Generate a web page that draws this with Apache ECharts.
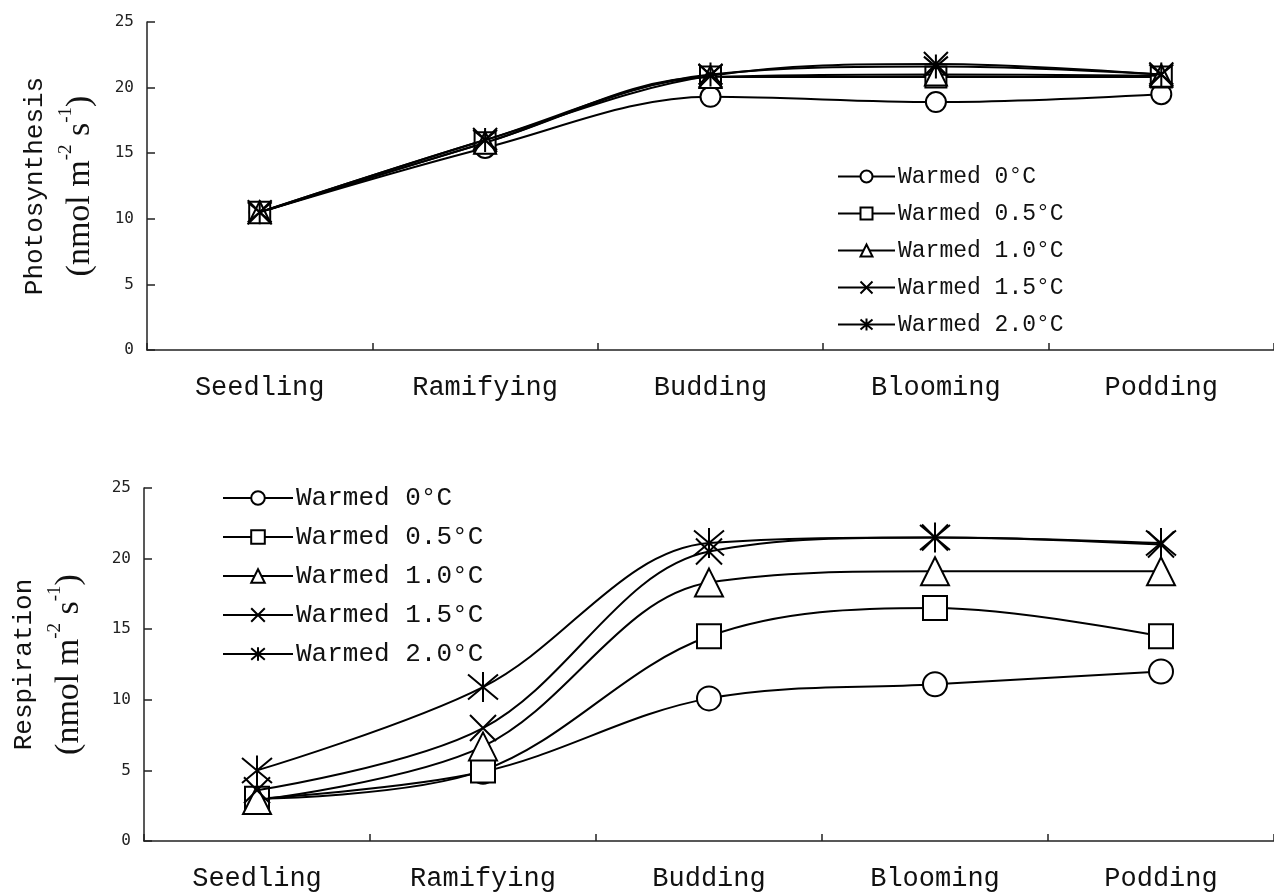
<!DOCTYPE html>
<html>
<head>
<meta charset="utf-8">
<script src="https://cdn.jsdelivr.net/npm/echarts@6/dist/echarts.min.js"></script>
<style>
html,body{margin:0;padding:0;background:#fff;}
#chart{width:1274px;height:892px;}
</style>
</head>
<body>
<div id="chart"></div>
<script>
// ---------- data ----------
const stages = ['Seedling', 'Ramifying', 'Budding', 'Blooming', 'Podding'];
const seriesNames = ['Warmed 0°C', 'Warmed 0.5°C', 'Warmed 1.0°C', 'Warmed 1.5°C', 'Warmed 2.0°C'];
const yTicks = [0, 5, 10, 15, 20, 25];

// Photosynthesis (nmol m-2 s-1)
const photo0  = [10.5, 15.4, 19.3, 18.9, 19.5];
const photo05 = [10.5, 15.8, 20.8, 20.8, 20.8];
const photo10 = [10.5, 15.8, 20.8, 21.0, 20.9];
const photo15 = [10.5, 16.0, 20.9, 21.8, 21.0];
const photo20 = [10.5, 16.0, 21.0, 21.6, 21.0];

// Respiration (nmol m-2 s-1)
const resp0  = [3.0, 4.9, 10.1, 11.1, 12.0];
const resp05 = [3.0, 5.0, 14.5, 16.5, 14.5];
const resp10 = [2.9, 6.7, 18.3, 19.1, 19.1];
const resp15 = [3.6, 8.0, 20.5, 21.5, 21.0];
const resp20 = [5.0, 10.9, 21.1, 21.5, 21.1];

// ---------- styling ----------
const X_PATH = 'path://M0,0L20,20M20,0L0,20';
const AST_PATH = 'path://M0,2L20,22M20,2L0,22M10,0L10,24';
const symbols = ['emptyCircle', 'emptyRect', 'emptyTriangle', X_PATH, AST_PATH];
const topSizes = [20, 21, 22, 24, 24];
const botSizes = [24, 24, 28, 26, 30];

const monoFont = '"Liberation Mono", "DejaVu Sans Mono", monospace';
const serifFont = '"Liberation Serif", "DejaVu Serif", serif';

function makeSeries(dataArr, gridIdx, sizes) {
  return dataArr.map((d, i) => ({
    name: seriesNames[i],
    type: 'line',
    xAxisIndex: gridIdx,
    yAxisIndex: gridIdx,
    data: d,
    smooth: 0.35,
    symbol: symbols[i],
    symbolSize: sizes[i],
    showAllSymbol: true,
    lineStyle: {color: '#000', width: 2},
    itemStyle: {color: '#000', borderColor: '#000', borderWidth: 2},
    emphasis: {disabled: true},
    animation: false,
    z: 2 + i
  }));
}

function yAxis(gridIdx, title, gap) {
  return {
    type: 'value',
    gridIndex: gridIdx,
    min: yTicks[0],
    max: yTicks[yTicks.length - 1],
    interval: 5,
    splitLine: {show: false},
    axisLine: {show: true, lineStyle: {color: '#222', width: 1.5}},
    axisTick: {show: true, inside: true, length: 8, lineStyle: {color: '#222', width: 1.5}},
    axisLabel: {color: '#222', fontFamily: '"DejaVu Sans Mono", monospace', fontSize: 16, margin: 13},
    name: '{a|' + title + '}\n{b|(nmol m}{s|-2}{b| s}{s|-1}{b|)}',
    nameLocation: 'middle',
    nameRotate: 90,
    nameGap: gap,
    nameTextStyle: {
      align: 'center',
      rich: {
        a: {fontFamily: monoFont, fontSize: 26, color: '#111', lineHeight: 44},
        b: {fontFamily: serifFont, fontSize: 34, color: '#111', lineHeight: 46},
        s: {fontFamily: serifFont, fontSize: 19, color: '#111', verticalAlign: 'top', lineHeight: 46, padding: [0, 0, 16, 0]}
      }
    }
  };
}

function xAxis(gridIdx) {
  return {
    type: 'category',
    gridIndex: gridIdx,
    data: stages,
    boundaryGap: true,
    axisLine: {show: true, lineStyle: {color: '#222', width: 1.5}},
    axisTick: {show: true, inside: true, length: 7, interval: 0, lineStyle: {color: '#222', width: 1.5}},
    axisLabel: {color: '#111', fontFamily: monoFont, fontSize: 27, margin: 24, interval: 0},
    splitLine: {show: false}
  };
}

function legend(left, top, itemW, itemH, fontSize, gap) {
  return {
    data: seriesNames,
    orient: 'vertical',
    left: left,
    top: top,
    itemWidth: itemW,
    itemHeight: itemH,
    itemGap: gap,
    selectedMode: false,
    textStyle: {fontFamily: monoFont, fontSize: fontSize, color: '#111', padding: [0, 0, 0, -2]},
    inactiveColor: '#000'
  };
}

const chart = echarts.init(document.getElementById('chart'), null, {renderer: 'canvas'});
chart.setOption({
  backgroundColor: '#fff',
  animation: false,
  grid: [
    {left: 147, top: 22, width: 1135, height: 328, containLabel: false},
    {left: 144, top: 488, width: 1135, height: 355, containLabel: false}
  ],
  xAxis: [xAxis(0), xAxis(1)],
  yAxis: [yAxis(0, 'Photosynthesis', 44), yAxis(1, 'Respiration', 52)],
  legend: [
    Object.assign(legend(832, 160, 57, 15, 23, 14), {id: 'l0'}),
    Object.assign(legend(217, 480, 70, 17, 26, 13), {id: 'l1'})
  ],
  series: makeSeries([photo0, photo05, photo10, photo15, photo20], 0, topSizes)
    .concat(makeSeries([resp0, resp05, resp10, resp15, resp20], 1, botSizes))
});
</script>
</body>
</html>
